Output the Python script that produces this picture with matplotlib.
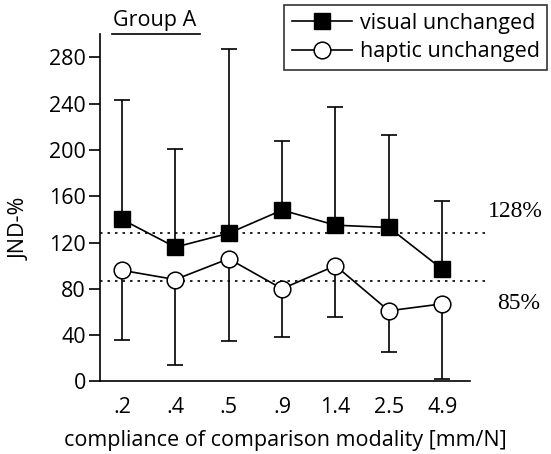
import matplotlib
matplotlib.use('Agg')
import matplotlib.pyplot as plt
import numpy as np

# valeurs
categories = ['.2', '.4', '.5', '.9', '1.4', '2.5', '4.9']
visual_mean = [140, 116, 128, 148, 135, 133, 97]
visual_upper = [243, 201, 287, 208, 237, 213, 156]
haptic_mean = [96, 88, 106, 80, 100, 61, 67]
haptic_lower = [36, 14, 35, 38, 56, 25, 2]
ref_visual = 128
ref_haptic = 87

plt.rcParams['font.family'] = ['Open Sans', 'DejaVu Sans']
FS = 15.5

fig = plt.figure(figsize=(5.51, 4.54), dpi=100)
ax = fig.add_axes([0.1815, 0.160, 0.6715, 0.7645])

x = np.arange(len(categories))
vm = np.array(visual_mean)
hm = np.array(haptic_mean)

# barres d'erreur unilaterales
ax.errorbar(x, vm, yerr=[np.zeros(len(x)), np.array(visual_upper) - vm],
            fmt='none', ecolor='black', elinewidth=1.2, capsize=5.5, capthick=1.2, zorder=1)
ax.errorbar(x, hm, yerr=[hm - np.array(haptic_lower), np.zeros(len(x))],
            fmt='none', ecolor='black', elinewidth=1.2, capsize=5.5, capthick=1.2, zorder=1)

# lignes de reference
ax.plot([-0.41, 6.85], [ref_visual, ref_visual], linestyle=(0, (1.5, 3)), color='black',
        lw=1.2, clip_on=False, zorder=0)
ax.plot([-0.41, 6.85], [ref_haptic, ref_haptic], linestyle=(0, (1.5, 3)), color='black',
        lw=1.2, clip_on=False, zorder=0)

ax.plot(x, vm, color='black', lw=1.2, marker='s', markersize=11,
        markerfacecolor='black', label='visual unchanged', zorder=3)
ax.plot(x, hm, color='black', lw=1.2, marker='o', markersize=12,
        markerfacecolor='white', markeredgewidth=1.1, label='haptic unchanged', zorder=3)

ax.set_xlim(-0.41, 6.52)
ax.set_ylim(0, 300)
ax.set_xticks(x)
ax.set_xticklabels(categories)
ax.set_yticks(range(0, 281, 40))
ax.tick_params(axis='x', length=0, pad=11, labelsize=FS)
ax.tick_params(axis='y', length=8, width=1.2, direction='out', pad=2, labelsize=FS)

ax.spines['top'].set_visible(False)
ax.spines['right'].set_visible(False)
for s in ['left', 'bottom']:
    ax.spines[s].set_linewidth(1.2)

ax.set_xlabel('compliance of comparison modality [mm/N]', fontsize=FS, labelpad=9)
ax.set_ylabel('JND-%', fontsize=FS)
ax.yaxis.set_label_coords(-0.188, 0.44)

ax.text(6.85, ref_visual + 19, '128%', fontsize=17, family='Liberation Serif',
        ha='left', va='center')
ax.text(7.02, ref_haptic - 20, '85%', fontsize=17, family='Liberation Serif',
        ha='left', va='center')

fig.text(0.28, 0.955, 'Group A', fontsize=FS, ha='center', va='center')
fig.add_artist(plt.Line2D([0.203, 0.363], [0.925, 0.925], color='black', lw=1.2))

leg = ax.legend(loc='upper right', bbox_to_anchor=(0.993, 0.989), bbox_transform=fig.transFigure,
                frameon=True, fancybox=False, edgecolor='black', fontsize=FS,
                handlelength=2.8, handletextpad=0.35, borderpad=0.35, labelspacing=0.35,
                borderaxespad=0)
leg.get_frame().set_linewidth(1.2)

fig.savefig('out.png', dpi=100)
